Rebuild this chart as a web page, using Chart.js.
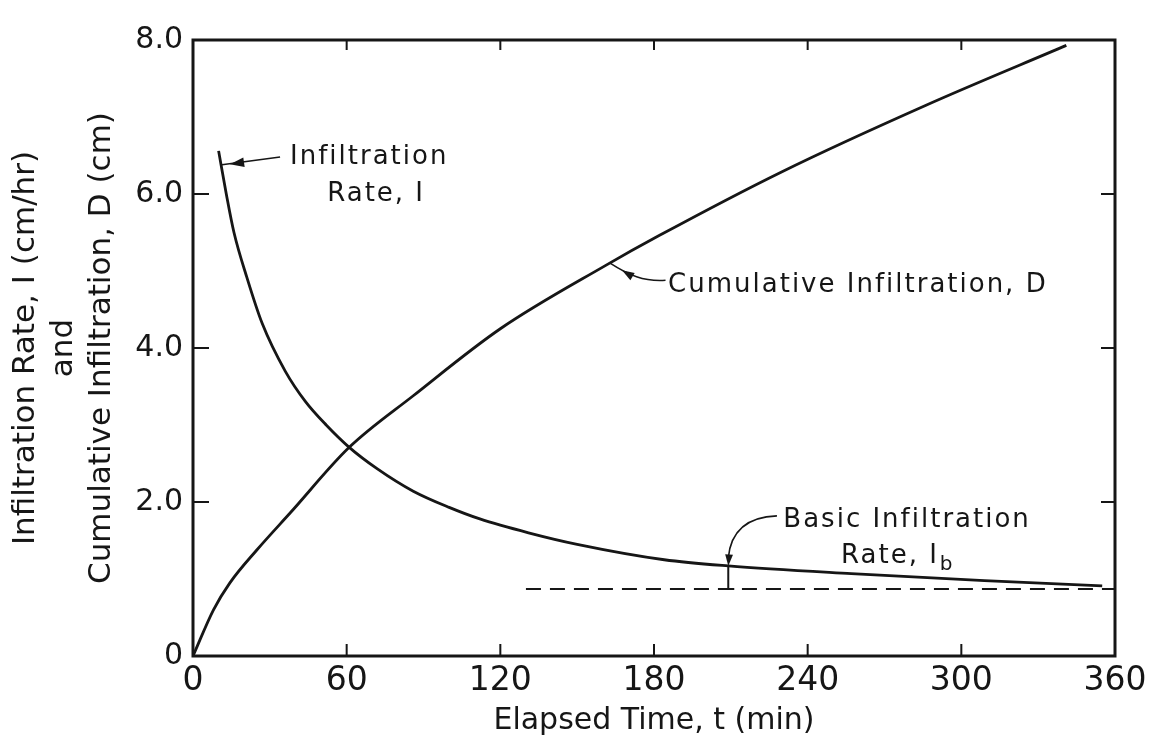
<!DOCTYPE html>
<html>
<head>
<meta charset="utf-8">
<script src="https://cdn.jsdelivr.net/npm/chart.js@4.4.1/dist/chart.umd.min.js"></script>
<style>
  html, body { margin: 0; padding: 0; background: #fff; }
  #wrap { width: 1154px; height: 743px; }
</style>
</head>
<body>
<div id="wrap"><canvas id="infil-chart"></canvas></div>
<script>
// Infiltration rate I (cm/hr) against elapsed time (min)
const rateTime = [10, 13, 16, 21, 27, 36, 44, 52, 61, 72, 86, 100, 112, 131, 150, 184, 209, 257, 309, 355];
const rateValue = [6.56, 6.0, 5.5, 4.92, 4.32, 3.7, 3.3, 3.0, 2.71, 2.43, 2.14, 1.93, 1.78, 1.6, 1.45, 1.25, 1.17, 1.07, 0.98, 0.91];

// Cumulative infiltration D (cm)
const cumTime = [0, 8, 14.4, 25, 38, 61, 86, 120, 161, 182, 230, 286, 341];
const cumValue = [0, 0.6, 0.95, 1.38, 1.86, 2.71, 3.38, 4.25, 5.07, 5.46, 6.29, 7.15, 7.93];

// Basic infiltration rate Ib (dashed)
const basicTime = [130, 360];
const basicValue = [0.87, 0.87];

const ink = "#161616";
const fontFamily = '"DejaVu Sans", sans-serif';

function toPoints(xs, ys) {
  return xs.map(function (x, i) { return { x: x, y: ys[i] }; });
}

function arrowHead(ctx, tx, ty, fx, fy, size) {
  const a = Math.atan2(ty - fy, tx - fx);
  ctx.beginPath();
  ctx.moveTo(tx, ty);
  ctx.lineTo(tx - size * Math.cos(a - 0.33), ty - size * Math.sin(a - 0.33));
  ctx.lineTo(tx - size * Math.cos(a + 0.33), ty - size * Math.sin(a + 0.33));
  ctx.closePath();
  ctx.fill();
}

// frame, inward ticks and the lettered notes
const notesPlugin = {
  id: "notes",
  afterDatasetsDraw: function (chart) {
    const ctx = chart.ctx;
    const a = chart.chartArea;
    const xs = chart.scales.x;
    const ys = chart.scales.y;
    const px = function (v) { return xs.getPixelForValue(v); };
    const py = function (v) { return ys.getPixelForValue(v); };

    ctx.save();
    ctx.strokeStyle = ink;
    ctx.fillStyle = ink;
    ctx.lineWidth = 3;
    ctx.strokeRect(a.left, a.top, a.right - a.left, a.bottom - a.top);

    ctx.lineWidth = 2;
    xs.ticks.forEach(function (t) {
      if (t.value <= xs.min || t.value >= xs.max) return;
      const x = px(t.value);
      ctx.beginPath();
      ctx.moveTo(x, a.bottom); ctx.lineTo(x, a.bottom - 12);
      ctx.moveTo(x, a.top); ctx.lineTo(x, a.top + 10);
      ctx.stroke();
    });
    ys.ticks.forEach(function (t) {
      if (t.value <= ys.min || t.value >= ys.max) return;
      const y = py(t.value);
      ctx.beginPath();
      ctx.moveTo(a.left, y); ctx.lineTo(a.left + 16, y);
      ctx.moveTo(a.right, y); ctx.lineTo(a.right - 14, y);
      ctx.stroke();
    });

    ctx.font = "26px " + fontFamily;
    ctx.letterSpacing = "2px";
    ctx.textBaseline = "middle";
    ctx.lineWidth = 1.6;

    // Infiltration Rate, I
    ctx.textAlign = "center";
    ctx.fillText("Infiltration", px(68.8), py(6.48));
    ctx.fillText("Rate, I", px(71.5), py(6.0));
    ctx.beginPath();
    ctx.moveTo(px(34), py(6.48));
    ctx.lineTo(px(11.3), py(6.38));
    ctx.stroke();
    arrowHead(ctx, px(11.3) + 8, py(6.38) - 0.5, px(34), py(6.48), 15);

    // Cumulative Infiltration, D
    ctx.textAlign = "left";
    ctx.fillText("Cumulative Infiltration, D", px(185.5), py(4.82));
    const cTipX = px(163), cTipY = py(5.1);
    ctx.beginPath();
    ctx.moveTo(px(184.5), py(4.88));
    ctx.bezierCurveTo(px(176), py(4.86), px(170), py(4.95), cTipX, cTipY);
    ctx.stroke();
    arrowHead(ctx, px(167.5), py(5.01), px(172), py(4.92), 13);

    // Basic Infiltration Rate, Ib
    ctx.fillText("Basic Infiltration", px(230.5), py(1.76));
    const rateLabel = "Rate, I";
    ctx.font = "26px " + fontFamily;
    const w1 = ctx.measureText(rateLabel).width;
    ctx.font = "20px " + fontFamily;
    const w2 = ctx.measureText("b").width;
    const rx = px(275) - (w1 + w2) / 2;
    ctx.font = "26px " + fontFamily;
    ctx.fillText(rateLabel, rx, py(1.3));
    ctx.font = "20px " + fontFamily;
    ctx.fillText("b", rx + w1 + 1, py(1.3) + 9);

    // leader from the label down onto the curve, then the gap down to Ib
    const k = rateTime.indexOf(209);
    const dimT = rateTime[k];
    const dimTop = rateValue[k];
    const dx = px(dimT);
    const dy = py(dimTop);
    ctx.beginPath();
    ctx.moveTo(px(228), py(1.82));
    ctx.quadraticCurveTo(px(210.5), py(1.8), dx, dy - 8);
    ctx.stroke();
    arrowHead(ctx, dx, dy, dx + 1, dy - 14, 12);
    ctx.lineWidth = 2;
    ctx.beginPath();
    ctx.moveTo(dx, dy);
    ctx.lineTo(dx, py(basicValue[0]));
    ctx.moveTo(dx - 6, py(basicValue[0]));
    ctx.lineTo(dx + 6, py(basicValue[0]));
    ctx.stroke();

    ctx.restore();
  }
};

const ctx = document.getElementById("infil-chart").getContext("2d");
new Chart(ctx, {
  type: "line",
  data: {
    datasets: [
      {
        label: "Infiltration Rate, I",
        data: toPoints(rateTime, rateValue),
        borderColor: ink,
        borderWidth: 2.8,
        pointRadius: 0,
        cubicInterpolationMode: "monotone",
      },
      {
        label: "Cumulative Infiltration, D",
        data: toPoints(cumTime, cumValue),
        borderColor: ink,
        borderWidth: 2.8,
        pointRadius: 0,
        cubicInterpolationMode: "monotone",
      },
      {
        label: "Basic Infiltration Rate, Ib",
        data: toPoints(basicTime, basicValue),
        borderColor: ink,
        borderWidth: 2.2,
        borderDash: [15, 9],
        pointRadius: 0,
      },
    ],
  },
  options: {
    responsive: true,
    maintainAspectRatio: false,
    animation: false,
    layout: { padding: { top: 40, right: 39, left: 0, bottom: 0 } },
    plugins: { legend: { display: false }, tooltip: { enabled: false } },
    scales: {
      x: {
        type: "linear",
        min: 0,
        max: 360,
        afterFit: function (scale) { scale.height = 87; },
        ticks: {
          stepSize: 60,
          color: ink,
          padding: 6,
          maxRotation: 0,
          font: { family: fontFamily, size: 33 },
        },
        grid: { display: false, drawTicks: false },
        border: { display: false },
        title: {
          display: true,
          text: "Elapsed Time, t (min)",
          color: ink,
          font: { family: fontFamily, size: 30 },
          padding: { top: 0, bottom: 4 },
        },
      },
      y: {
        min: 0,
        max: 8,
        afterFit: function (scale) { scale.width = 193; },
        ticks: {
          stepSize: 2,
          color: ink,
          padding: 10,
          font: { family: fontFamily, size: 30 },
          callback: function (v) { return v === 0 ? "0" : v.toFixed(1); },
        },
        grid: { display: false, drawTicks: false },
        border: { display: false },
        title: {
          display: true,
          text: ["Infiltration Rate, I (cm/hr)", "and", "Cumulative Infiltration, D (cm)"],
          color: ink,
          font: { family: fontFamily, size: 31, lineHeight: 1.22 },
          padding: { top: 7, bottom: 0 },
        },
      },
    },
  },
  plugins: [notesPlugin],
});
</script>
</body>
</html>
